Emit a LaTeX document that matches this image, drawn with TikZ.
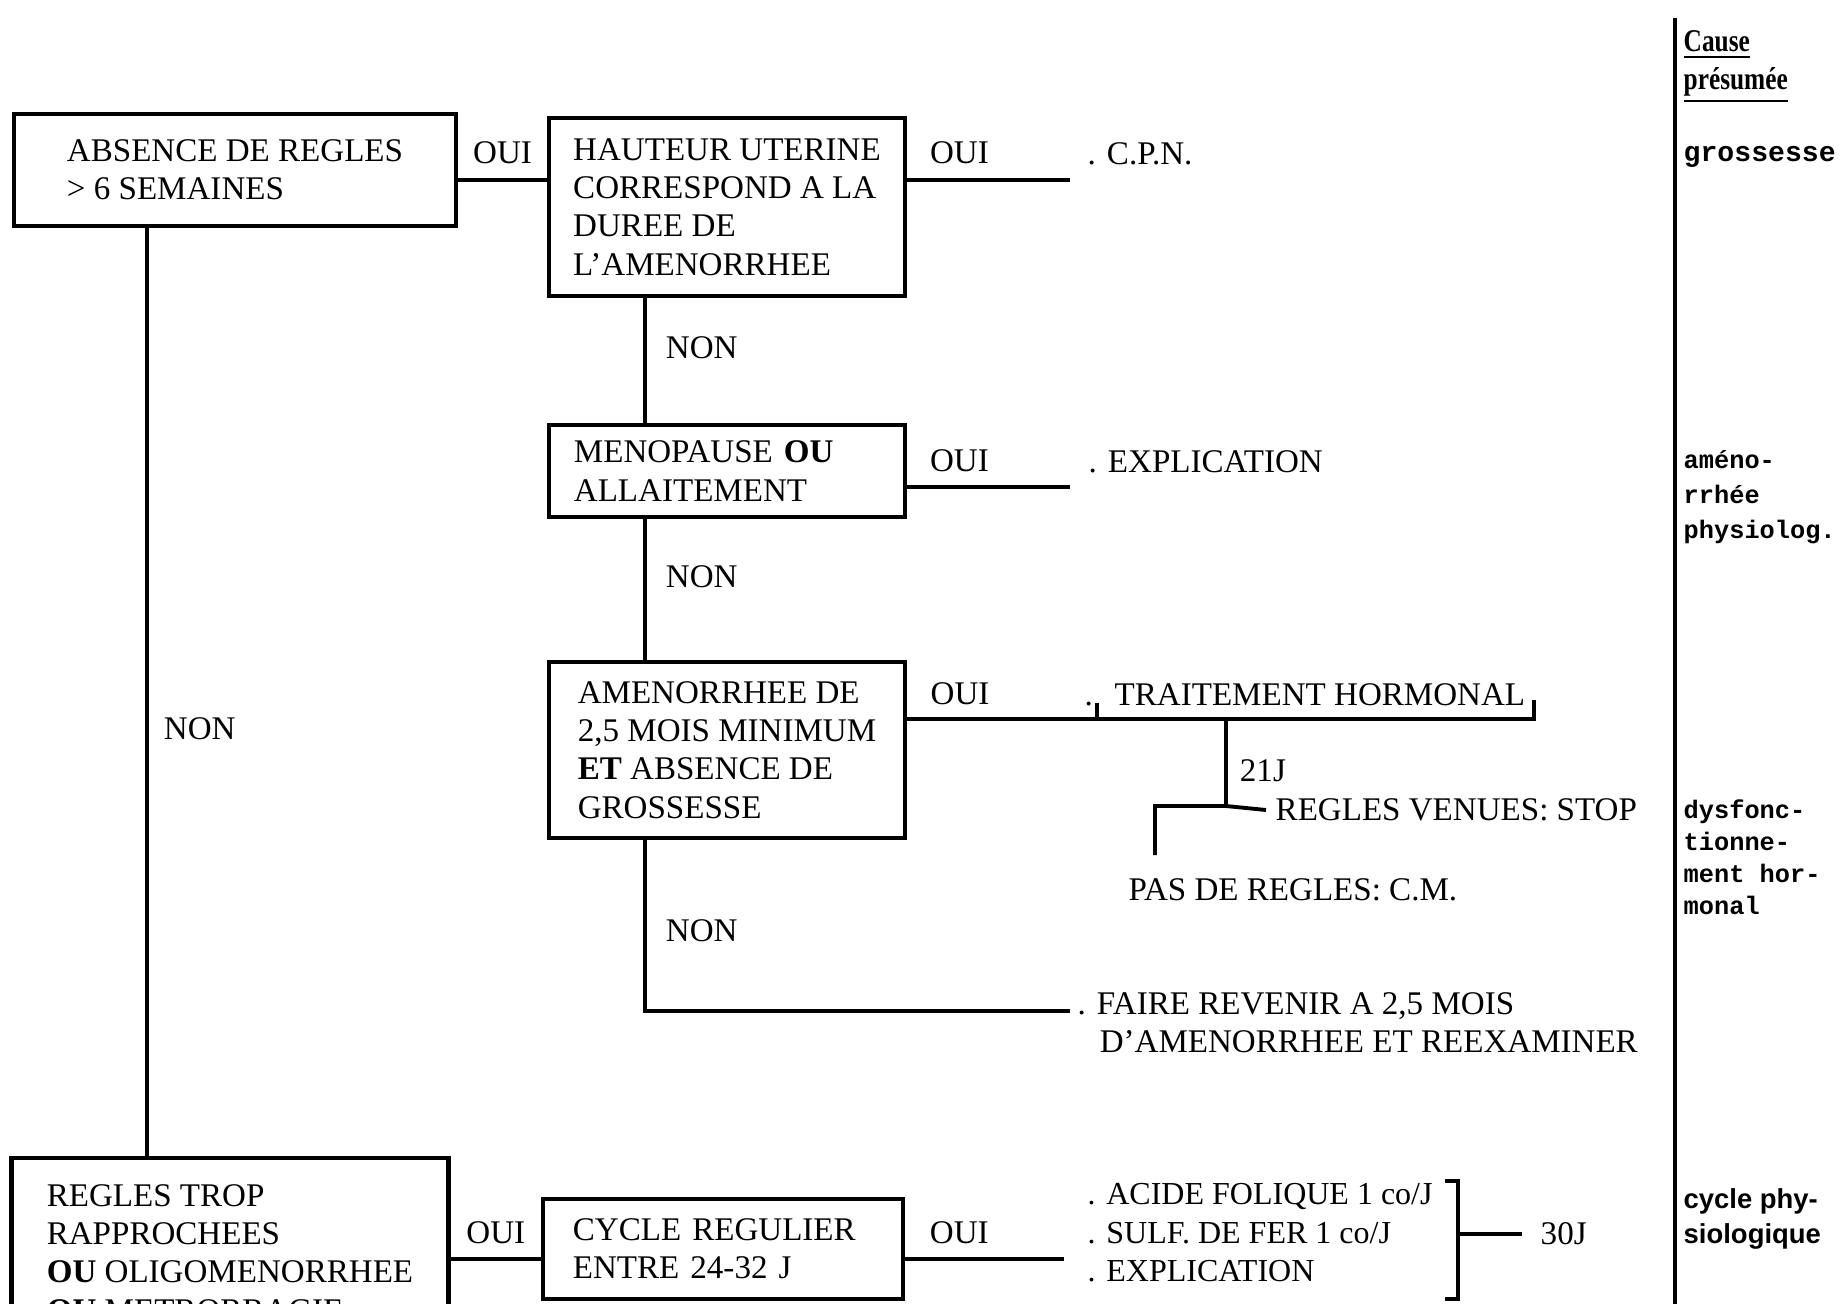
\documentclass[tikz,border=0pt]{standalone}
\usepackage{fontspec}
\setmainfont{Liberation Serif}
\newfontfamily\causemono{Liberation Mono}
\newfontfamily\causesans{Liberation Sans}
\newfontfamily\causehead[FakeStretch=0.8]{Liberation Serif}
\usetikzlibrary{positioning}
\newcommand\mainsize{\fontsize{9.4}{10.9}\selectfont}
\tikzset{
  qbox/.style={draw, line width=1.3pt, align=left, font=\mainsize},
  outtext/.style={font=\mainsize, inner sep=0pt, align=left},
  lbl/.style={font=\mainsize, inner sep=0pt},
  link/.style={line width=1.1pt},
  causetxt/.style={inner sep=0pt, align=left, anchor=north west},
}

\begin{document}
\begin{tikzpicture}[x=0.01cm, y=-0.01cm]
  \useasboundingbox (0,0) rectangle (1843,1303);
  \clip (0,0) rectangle (1843,1303);

  % Questions
  \node[qbox, minimum width=4.42cm, minimum height=1.12cm] (absence) at (235,170) {ABSENCE DE REGLES\\> 6 SEMAINES};
  \node[qbox, minimum width=3.56cm, minimum height=1.78cm] (hauteur) at (727,207) {HAUTEUR UTERINE\\CORRESPOND A LA\\DUREE DE\\L'AMENORRHEE};
  \node[qbox, minimum width=3.56cm, minimum height=0.92cm, text width=3.06cm] (menopause) at (727,471) {MENOPAUSE \textbf{OU}\\ALLAITEMENT};
  \node[qbox, minimum width=3.56cm, minimum height=1.76cm] (amenorrhee) at (727,750) {AMENORRHEE DE\\2,5 MOIS MINIMUM\\\textbf{ET} ABSENCE DE\\GROSSESSE};
  \node[qbox, minimum width=4.37cm, minimum height=1.9cm] (regles) at (230,1253) {REGLES TROP\\RAPPROCHEES\\\textbf{OU} OLIGOMENORRHEE\\\textbf{OU} METRORRAGIE};
  \node[qbox, minimum width=3.6cm, minimum height=1.0cm, text width=3.0cm] (cycle) at (723,1249) {CYCLE REGULIER\\ENTRE 24-32 J};

  % Conduites
  \node[outtext, anchor=west] (cpn) at (1087,154) {. C.P.N.};
  \node[outtext, anchor=west] (explic) at (1088,462) {. EXPLICATION};
  \node[outtext, anchor=west] (tdot) at (1084,704) {.};
  \node[outtext, anchor=west] (traitement) at (1114,695) {TRAITEMENT HORMONAL};
  \node[outtext, anchor=west] (venues) at (1275,810) {REGLES VENUES: STOP};
  \node[outtext, anchor=west] (pasregles) at (1128,890) {PAS DE REGLES: C.M.};
  \node[outtext, anchor=north west] (revenir) at (1077,992) {. FAIRE REVENIR A 2,5 MOIS\\\phantom{.}\ \,D'AMENORRHEE ET REEXAMINER};
  \node[outtext, anchor=north west, font=\fontsize{9.1}{10.9}\selectfont] (fer) at (1087,1183) {. ACIDE FOLIQUE 1 co/J\\. SULF. DE FER 1 co/J\\. EXPLICATION};
  \node[outtext, anchor=west] (trente) at (1540,1234) {30J};

  % Points of the branches
  \coordinate (spine) at (645,0);
  \coordinate (lspine) at (147,0);
  \coordinate (r1) at (1070,180);
  \coordinate (r2) at (1070,487);
  \coordinate (r3) at (1534,719);
  \coordinate (tick) at (1097,719);
  \coordinate (fork) at (1226,806);
  \coordinate (r4) at (1070,1011);
  \coordinate (r5) at (1064,1259);
  \coordinate (brk) at (1458,1234);
  \coordinate (brtop) at (1445,1181);
  \coordinate (brbot) at (1445,1299);

  % OUI branches
  \draw[link] (absence.east |- r1) -- node[lbl, above=0.145cm] {OUI} (hauteur.west |- r1);
  \draw[link] (hauteur.east |- r1) -- node[lbl, pos=0.32, above=0.145cm] {OUI} (r1);
  \draw[link] (menopause.east |- r2) -- node[lbl, pos=0.32, above=0.135cm] {OUI} (r2);
  \draw[link] (amenorrhee.east |- r3) -- node[lbl, pos=0.084, above=0.125cm] {OUI} (r3) -- ++(0,-19);
  \draw[link] (tick) -- ++(0,-16);
  \draw[link] (fork |- r3) -- node[lbl, pos=0.59, right=0.12cm] {21J} (fork);
  \draw[link] ([xshift=-0.09cm]venues.west) -- (fork) -- ++(-71,0) -- ++(0,49);
  \draw[link] (regles.east |- r5) -- node[lbl, above=0.135cm] {OUI} (cycle.west |- r5);
  \draw[link] (cycle.east |- r5) -- node[lbl, pos=0.34, above=0.135cm] {OUI} (r5);
  \draw[link] (brtop) -| (brk) |- (brbot);
  \draw[link] (brk) -- ([xshift=-0.18cm]trente.west);

  % NON branches
  \draw[link] (hauteur.south -| spine) -- node[lbl, pos=0.4, right=0.19cm] {NON} (menopause.north -| spine);
  \draw[link] (menopause.south -| spine) -- node[lbl, pos=0.41, right=0.19cm] {NON} (amenorrhee.north -| spine);
  \draw[link] (amenorrhee.south -| spine) -- node[lbl, pos=0.53, right=0.19cm] {NON} (spine |- r4) -- (r4);
  \draw[link] (absence.south -| lspine) -- node[lbl, pos=0.54, right=0.15cm] {NON} (regles.north -| lspine);

  % Cause presumee
  \coordinate (dtop) at (1675,18);
  \coordinate (dbot) at (1675,1310);
  \draw[line width=1.4pt] (dtop) -- (dbot);
  \node[causetxt, font=\causehead\bfseries\fontsize{9}{10.7}\selectfont] (cause) at (1683,30) {\underline{Cause}\\\underline{présumée}};
  \node[inner sep=0pt, anchor=base west, font=\causemono\bfseries\fontsize{8}{9.9}\selectfont] (grossesse) at (1683,161) {grossesse};
  \node[causetxt, font=\causemono\bfseries\fontsize{7.2}{9.9}\selectfont] (physio) at (1683,450) {améno-\\rrhée\\physiolog.};
  \node[causetxt, font=\causemono\bfseries\fontsize{7.2}{9.1}\selectfont] (dysf) at (1683,799) {dysfonc-\\tionne-\\ment hor-\\monal};
  \node[causetxt, font=\causesans\bfseries\fontsize{7.8}{9.9}\selectfont] (cyclephy) at (1683,1188) {cycle phy-\\siologique};
\end{tikzpicture}
\end{document}
